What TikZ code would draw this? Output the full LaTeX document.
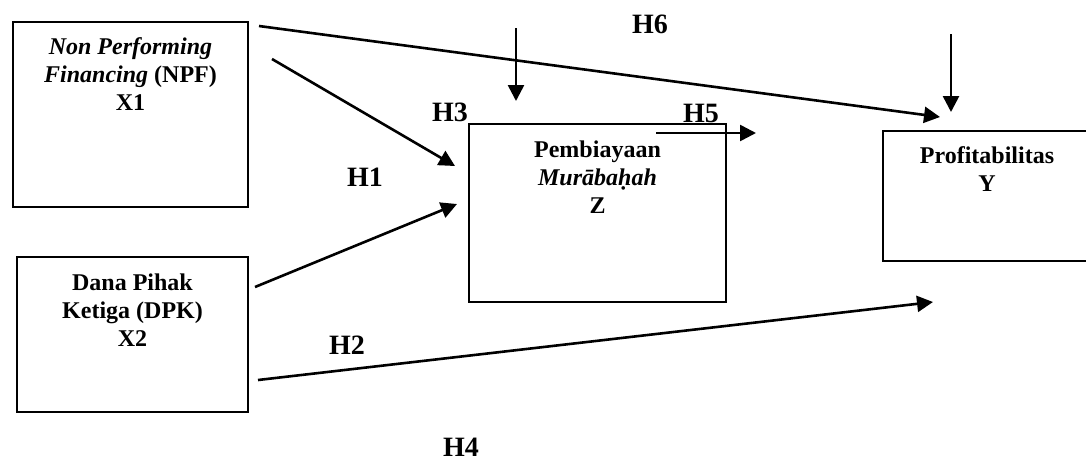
\documentclass[tikz,border=0pt]{standalone}
\usepackage{fontspec}
\setmainfont{Liberation Serif}
\usetikzlibrary{arrows.meta}

\begin{document}
\begin{tikzpicture}[
  x=0.5pt, y=-0.5pt,
  varbox/.style={draw, line width=0.7pt, inner sep=0pt},
  vartext/.style={anchor=base, align=center, inner sep=0pt,
    font=\fontsize{12}{14}\selectfont\bfseries},
  hyp/.style={inner sep=0pt, font=\fontsize{14}{16}\selectfont\bfseries},
  link/.style={line width=1.3pt, -{Triangle[length=8pt,width=8pt]}}
]
  \clip (0,0) rectangle (1086,462);
  % boxes
  \node[varbox, minimum width=117.5pt, minimum height=92.5pt] (npf) at (130.5,114.5) {};
  \node[varbox, minimum width=115.5pt, minimum height=77.5pt] (dpk) at (132.5,334.5) {};
  \node[varbox, minimum width=128.5pt, minimum height=89pt] (mur) at (597.5,213) {};
  \node[varbox, minimum width=104pt, minimum height=65pt] (prof) at (987,196) {};
  % box texts (placed at the baseline of their last line)
  \node[vartext] (npftext) at (130.5,110) {\textit{Non Performing}\\\textit{Financing} (NPF)\\X1};
  \node[vartext] (dpktext) at (132.5,346) {Dana Pihak\\Ketiga (DPK)\\X2};
  \node[vartext] (murtext) at (597.5,213) {Pembiayaan\\\textit{Murābaḥah}\\Z};
  \node[vartext] (proftext) at (987,191) {Profitabilitas\\Y};
  % hypotheses
  \node[hyp] (h1) at (365,177) {H1};
  \node[hyp] (h2) at (347,345) {H2};
  \node[hyp] (h3) at (450,112) {H3};
  \node[hyp] (h4) at (461,447) {H4};
  \node[hyp] (h5) at (701,113) {H5};
  \node[hyp] (h6) at (650,24) {H6};
  % arrow ends
  \coordinate (npfout1) at (272,59);
  \coordinate (npfout2) at (259,26);
  \coordinate (dpkout1) at (255,287);
  \coordinate (dpkout2) at (258,380);
  \coordinate (murin1) at (455,166);
  \coordinate (murin2) at (457,204);
  \coordinate (murtop) at (516,28);
  \coordinate (murtopin) at (516,101);
  \coordinate (murout) at (656,133);
  \coordinate (murend) at (756,133);
  \coordinate (profin1) at (940,117);
  \coordinate (profin2) at (933,302);
  \coordinate (proftop) at (951,34);
  \coordinate (proftopin) at (951,112);
  % arrows
  \draw[link] (npfout1) -- (murin1);
  \draw[link] (dpkout1) -- (murin2);
  \draw[link] (npfout2) -- (profin1);
  \draw[link] (dpkout2) -- (profin2);
  \draw[link] (murtop) -- (murtopin);
  \draw[link] (proftop) -- (proftopin);
  \draw[link] (murout) -- (murend);
\end{tikzpicture}
\end{document}
